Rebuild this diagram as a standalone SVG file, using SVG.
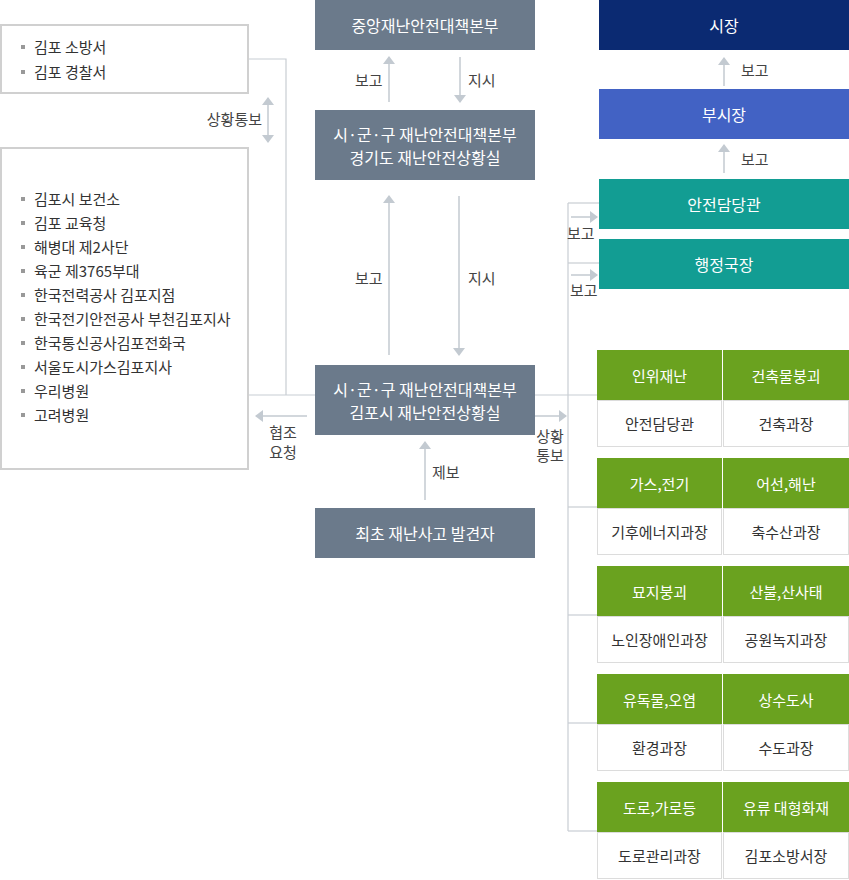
<svg xmlns="http://www.w3.org/2000/svg" width="849" height="880" viewBox="0 0 849 880">
<style>
text{font-family:"Noto Sans CJK KR","Noto Sans",sans-serif;}
.lbl{font-size:15px;fill:#444;}
.li{font-size:15px;fill:#333;}
.wt{font-size:16px;fill:#fff;text-anchor:middle;dominant-baseline:central;}
.ct{font-size:15px;fill:#333;text-anchor:middle;dominant-baseline:central;}
.hd{font-size:15px;fill:#fff;text-anchor:middle;dominant-baseline:central;}
.box{fill:#fff;stroke:#d0d0d0;stroke-width:2;}
.slate{fill:#6b7a8b;}
.cell{fill:#fff;stroke:#dcdcdc;stroke-width:1;}
.green{fill:#6aa21f;}
.ln{fill:none;stroke:#c8cdd3;stroke-width:1.2;}
.ar{fill:none;stroke:#c3cad1;stroke-width:1.5;marker-end:url(#ah);}
.bul{fill:#999;}
</style>
<defs>
<marker id="ah" viewBox="0 0 8 12" refX="7" refY="6" markerWidth="8" markerHeight="12" markerUnits="userSpaceOnUse" orient="auto-start-reverse">
<path d="M0,0 L8,6 L0,12 z" fill="#c3cad1"/>
</marker>
</defs>

<g id="connectors">
<polyline class="ln" points="249,59 286,59 286,395"/>
<line class="ln" x1="249" y1="395" x2="315" y2="395"/>
<line class="ln" x1="535" y1="395" x2="597" y2="395"/>
<line class="ln" x1="568" y1="203" x2="568" y2="831"/>
<line class="ln" x1="568" y1="203" x2="599" y2="203"/>
<line class="ln" x1="568" y1="263" x2="599" y2="263"/>
<line class="ln" x1="568" y1="507" x2="597" y2="507"/>
<line class="ln" x1="568" y1="615" x2="597" y2="615"/>
<line class="ln" x1="568" y1="723" x2="597" y2="723"/>
<line class="ln" x1="568" y1="831" x2="597" y2="831"/>
<line class="ar" x1="268" y1="98" x2="268" y2="142" style="marker-start:url(#ah)"/>
<line class="ar" x1="389" y1="102" x2="389" y2="57"/>
<line class="ar" x1="460" y1="57" x2="460" y2="102"/>
<line class="ar" x1="389" y1="355" x2="389" y2="196"/>
<line class="ar" x1="459" y1="196" x2="459" y2="355"/>
<line class="ar" x1="307" y1="416" x2="256" y2="416"/>
<line class="ar" x1="535" y1="416" x2="566" y2="416"/>
<line class="ar" x1="425" y1="500" x2="425" y2="442"/>
<line class="ar" x1="724" y1="86" x2="724" y2="58"/>
<line class="ar" x1="724" y1="173" x2="724" y2="145"/>
<line class="ar" x1="571" y1="217" x2="597" y2="217"/>
<line class="ar" x1="571" y1="275" x2="597" y2="275"/>
<text class="lbl" x="262" y="125" text-anchor="end">상황통보</text>
<text class="lbl" x="355" y="86">보고</text>
<text class="lbl" x="468" y="86">지시</text>
<text class="lbl" x="355" y="284">보고</text>
<text class="lbl" x="468" y="284">지시</text>
<text class="lbl" x="283" y="438" text-anchor="middle">협조</text>
<text class="lbl" x="283" y="458" text-anchor="middle">요청</text>
<text class="lbl" x="550" y="442" text-anchor="middle">상황</text>
<text class="lbl" x="550" y="461" text-anchor="middle">통보</text>
<text class="lbl" x="432" y="478">제보</text>
<text class="lbl" x="741" y="76">보고</text>
<text class="lbl" x="741" y="165">보고</text>
<text class="lbl" x="567" y="239">보고</text>
<text class="lbl" x="570" y="296">보고</text>
</g>

<g id="left-top">
<rect class="box" x="1" y="25" width="247" height="68"/>
<rect class="bul" x="21" y="45" width="4" height="4"/>
<text class="li" x="34" y="53">김포 소방서</text>
<rect class="bul" x="21" y="70" width="4" height="4"/>
<text class="li" x="34" y="78">김포 경찰서</text>
</g>

<g id="left-list">
<rect class="box" x="1" y="148" width="247" height="321"/>
<rect class="bul" x="21" y="197" width="4" height="4"/><text class="li" x="34" y="205">김포시 보건소</text>
<rect class="bul" x="21" y="221" width="4" height="4"/><text class="li" x="34" y="229">김포 교육청</text>
<rect class="bul" x="21" y="245" width="4" height="4"/><text class="li" x="34" y="253">해병대 제2사단</text>
<rect class="bul" x="21" y="269" width="4" height="4"/><text class="li" x="34" y="277">육군 제3765부대</text>
<rect class="bul" x="21" y="293" width="4" height="4"/><text class="li" x="34" y="301">한국전력공사 김포지점</text>
<rect class="bul" x="21" y="317" width="4" height="4"/><text class="li" x="34" y="325">한국전기안전공사 부천김포지사</text>
<rect class="bul" x="21" y="341" width="4" height="4"/><text class="li" x="34" y="349">한국통신공사김포전화국</text>
<rect class="bul" x="21" y="365" width="4" height="4"/><text class="li" x="34" y="373">서울도시가스김포지사</text>
<rect class="bul" x="21" y="389" width="4" height="4"/><text class="li" x="34" y="397">우리병원</text>
<rect class="bul" x="21" y="413" width="4" height="4"/><text class="li" x="34" y="421">고려병원</text>
</g>

<g id="central-hq">
<rect class="slate" x="315" y="0" width="220" height="50"/>
<text class="wt" x="425" y="25">중앙재난안전대책본부</text>
</g>
<g id="gyeonggi">
<rect class="slate" x="315" y="110" width="220" height="70"/>
<text class="wt" x="425" y="134">시·군·구 재난안전대책본부</text>
<text class="wt" x="425" y="157">경기도 재난안전상황실</text>
</g>
<g id="gimpo">
<rect class="slate" x="315" y="365" width="220" height="70"/>
<text class="wt" x="425" y="389">시·군·구 재난안전대책본부</text>
<text class="wt" x="425" y="412">김포시 재난안전상황실</text>
</g>
<g id="finder">
<rect class="slate" x="315" y="508" width="220" height="50"/>
<text class="wt" x="425" y="533">최초 재난사고 발견자</text>
</g>

<g id="mayor">
<rect x="599" y="0" width="250" height="50" fill="#0b2a72"/>
<text class="wt" x="724" y="25">시장</text>
</g>
<g id="vice-mayor">
<rect x="599" y="89" width="250" height="50" fill="#4262c4"/>
<text class="wt" x="724" y="114">부시장</text>
</g>
<g id="safety-officer">
<rect x="599" y="179" width="250" height="50" fill="#129d93"/>
<text class="wt" x="724" y="204">안전담당관</text>
</g>
<g id="admin-director">
<rect x="599" y="239" width="250" height="50" fill="#129d93"/>
<text class="wt" x="724" y="264">행정국장</text>
</g>

<g id="g1">
<rect class="green" x="597" y="350" width="125" height="50"/><text class="hd" x="659.5" y="375">인위재난</text>
<rect class="green" x="723" y="350" width="126" height="50"/><text class="hd" x="786" y="375">건축물붕괴</text>
<rect class="cell" x="597.5" y="400.5" width="124" height="46"/><text class="ct" x="659.5" y="423">안전담당관</text>
<rect class="cell" x="723.5" y="400.5" width="125" height="46"/><text class="ct" x="786" y="423">건축과장</text>
</g>
<g id="g2">
<rect class="green" x="597" y="458" width="125" height="50"/><text class="hd" x="659.5" y="483">가스,전기</text>
<rect class="green" x="723" y="458" width="126" height="50"/><text class="hd" x="786" y="483">어선,해난</text>
<rect class="cell" x="597.5" y="508.5" width="124" height="46"/><text class="ct" x="659.5" y="531">기후에너지과장</text>
<rect class="cell" x="723.5" y="508.5" width="125" height="46"/><text class="ct" x="786" y="531">축수산과장</text>
</g>
<g id="g3">
<rect class="green" x="597" y="566" width="125" height="50"/><text class="hd" x="659.5" y="591">묘지붕괴</text>
<rect class="green" x="723" y="566" width="126" height="50"/><text class="hd" x="786" y="591">산불,산사태</text>
<rect class="cell" x="597.5" y="616.5" width="124" height="46"/><text class="ct" x="659.5" y="639">노인장애인과장</text>
<rect class="cell" x="723.5" y="616.5" width="125" height="46"/><text class="ct" x="786" y="639">공원녹지과장</text>
</g>
<g id="g4">
<rect class="green" x="597" y="674" width="125" height="50"/><text class="hd" x="659.5" y="699">유독물,오염</text>
<rect class="green" x="723" y="674" width="126" height="50"/><text class="hd" x="786" y="699">상수도사</text>
<rect class="cell" x="597.5" y="724.5" width="124" height="46"/><text class="ct" x="659.5" y="747">환경과장</text>
<rect class="cell" x="723.5" y="724.5" width="125" height="46"/><text class="ct" x="786" y="747">수도과장</text>
</g>
<g id="g5">
<rect class="green" x="597" y="782" width="125" height="50"/><text class="hd" x="659.5" y="807">도로,가로등</text>
<rect class="green" x="723" y="782" width="126" height="50"/><text class="hd" x="786" y="807">유류 대형화재</text>
<rect class="cell" x="597.5" y="832.5" width="124" height="46"/><text class="ct" x="659.5" y="855">도로관리과장</text>
<rect class="cell" x="723.5" y="832.5" width="125" height="46"/><text class="ct" x="786" y="855">김포소방서장</text>
</g>
</svg>
